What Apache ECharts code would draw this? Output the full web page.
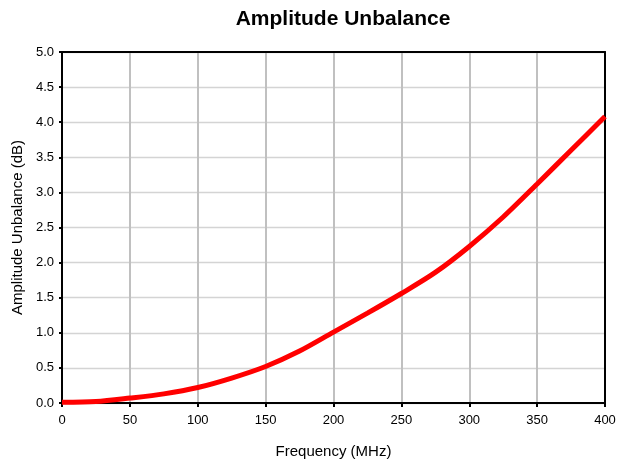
<!DOCTYPE html>
<html><head><meta charset="utf-8">
<script src="https://cdn.jsdelivr.net/npm/echarts@6/dist/echarts.min.js"></script>
<style>html,body{margin:0;padding:0;background:#fff}#c{width:617px;height:466px}</style>
</head><body><div id="c"></div>
<script>
const freq = [0,25,50,75,100,125,150,175,200,225,250,275,300,325,350,375,400];
const unbalance = [0.01,0.02,0.07,0.13,0.22,0.355,0.52,0.74,1.01,1.28,1.56,1.86,2.23,2.65,3.12,3.60,4.08];
const xTicks = [0,50,100,150,200,250,300,350,400];
const yTicks = [0,0.5,1,1.5,2,2.5,3,3.5,4,4.5,5];
const font = 'Liberation Sans, Arial, sans-serif';
const chart = echarts.init(document.getElementById('c'));
const frameAxis = {show:true,axisLine:{show:true,onZero:false,lineStyle:{color:'#000',width:2}},axisTick:{show:false},axisLabel:{show:false},splitLine:{show:false}};
chart.setOption({
  animation:false,
  title:{text:'Amplitude Unbalance',left:338,textAlign:'center',top:4,textStyle:{fontFamily:font,fontSize:21,fontWeight:'bold',color:'#000'}},
  grid:{left:62,right:12,top:52,bottom:63,outerBoundsMode:'none',containLabel:false},
  xAxis:[{type:'value',min:0,max:400,interval:50,
    name:'Frequency (MHz)',nameLocation:'middle',nameGap:41,
    nameTextStyle:{fontFamily:font,fontSize:15,color:'#000'},
    axisLine:{onZero:false,lineStyle:{color:'#000',width:2}},
    axisTick:{show:true,length:4,lineStyle:{color:'#000',width:2}},
    axisLabel:{fontFamily:font,fontSize:13,color:'#000',margin:11,formatter:v=>xTicks.includes(v)?String(v):''},
    splitLine:{show:true,lineStyle:{color:'#c0c0c0',width:2}}},
    Object.assign({type:'value',min:0,max:400,position:'top'},frameAxis)],
  yAxis:[{type:'value',min:0,max:5,interval:0.5,
    name:'Amplitude Unbalance (dB)',nameLocation:'middle',nameGap:33,
    nameTextStyle:{fontFamily:font,fontSize:15,color:'#000'},
    axisLine:{show:true,onZero:false,lineStyle:{color:'#000',width:2}},
    axisTick:{show:true,length:3,lineStyle:{color:'#000',width:2}},
    axisLabel:{fontFamily:font,fontSize:13,color:'#000',margin:8,formatter:v=>yTicks.includes(v)?v.toFixed(1):''},
    splitLine:{show:true,lineStyle:{color:'#d4d4d4',width:1.3}}},
    Object.assign({type:'value',min:0,max:5,position:'right'},frameAxis)],
  series:[{type:'line',data:freq.map((f,i)=>[f,unbalance[i]]),smooth:0.3,showSymbol:false,
    lineStyle:{color:'#ff0000',width:5},z:5}]
});
</script></body></html>
